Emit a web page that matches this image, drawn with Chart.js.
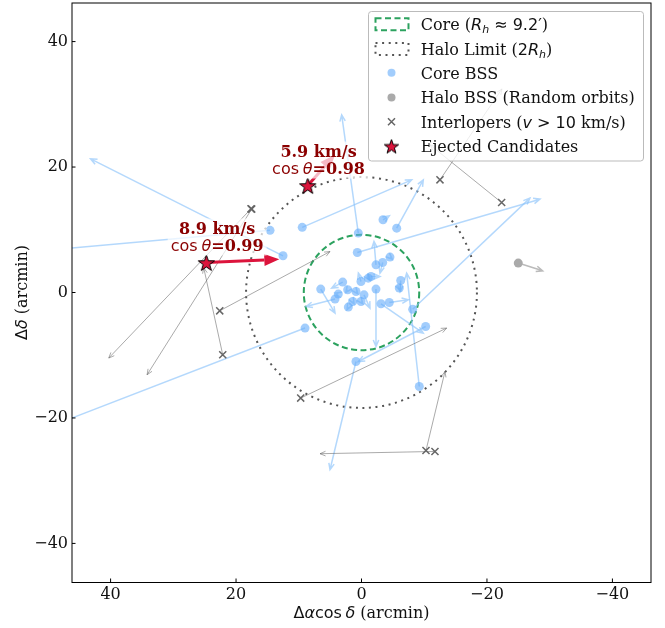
<!DOCTYPE html>
<html>
<head>
<meta charset="utf-8">
<script src="https://cdn.jsdelivr.net/npm/chart.js@4.4.1/dist/chart.umd.min.js"></script>
<style>
  html, body { margin: 0; padding: 0; background: #fff; }
  canvas { display: block; }
</style>
</head>
<body>
<canvas id="chart" width="665" height="628"></canvas>
<script>
(function () {
    "use strict";

    const SERIF = '"DejaVu Serif", serif';
    const SANS = '"DejaVu Sans", sans-serif';

    // Axes
    const xTicks = [40, 20, 0, -20, -40];
    const yTicks = [-40, -20, 0, 20, 40];
    const axisLimit = 46.15;
    const coreRadius = 9.2;
    const haloRadius = 18.4;

    // Core BSS (position + proper-motion arrow tip), arcmin
    const coreX = [12.51, 14.58, 9.0, 0.51, 9.45, -5.61, -3.43, 0.67, -8.16, -2.31, -3.38, -4.54, 3.0, 0.08, -1.08, -1.51, -6.25, -6.02, 6.5, 2.2, 0.88, -0.4, -2.31, 3.7, 4.22, 1.4, 2.1, 0.08, -3.11, -4.43, -10.23, 0.88, -9.21];
    const coreY = [5.85, 9.91, -5.67, 9.47, 10.39, 10.26, 11.59, 6.37, -2.68, 4.41, 4.78, 5.64, 1.66, 1.75, 2.29, 2.55, 1.91, 0.7, 0.54, 0.43, 0.16, -0.37, 0.54, -0.25, -1.05, -1.43, -2.33, -1.43, -1.8, -1.59, -5.42, -11.0, -14.98];
    const coreEndX = [43.19, 48.5, 49.0, 3.16, -8.0, -9.85, -4.43, -28.45, -26.85, -1.99, -2.95, -4.9, 4.75, 0.5, -1.3, -2.95, -6.14, -6.2, 4.22, 2.5, 0.6, -1.35, -2.31, 4.2, 8.84, 1.2, 2.3, -0.2, -9.85, -7.46, 0.51, 5.02, -7.2];
    const coreEndY = [21.31, 6.9, -21.1, 28.32, 17.96, 17.96, 12.22, 14.88, 15.04, 8.13, 3.09, 5.3, 0.7, 3.1, 2.0, 2.55, 0.1, 0.3, -3.28, 0.0, -0.2, -2.49, -8.61, -0.1, -2.23, -1.8, -2.7, -1.8, -6.47, -1.16, -11.0, -28.25, 3.09];

    // Halo BSS
    const haloX = [-24.99];
    const haloY = [4.69];
    const haloEndX = [-28.88];
    const haloEndY = [3.46];

    // Interlopers
    const interX = [17.61, 17.5, 22.12, 22.6, 9.69, -10.28, -11.71, -12.51, -22.34];
    const interY = [13.34, 13.3, -9.93, -2.92, -16.83, -25.18, -25.34, 17.96, 14.34];
    const interEndX = [40.29, 34.18, 25.15, 5.02, -13.58, -13.31, 6.61, -22.39, -10.92];
    const interEndY = [-10.45, -13.11, 3.94, 6.53, -5.67, -12.59, -25.7, 32.45, 23.54];

    // Ejected candidates
    const ejectX = [24.73, 8.57];
    const ejectY = [4.78, 17.05];
    const ejectEndX = [13.1, 4.22];
    const ejectEndY = [5.29, 21.94];
    const ejectSpeed = ["8.9 km/s", "5.9 km/s"];
    const ejectCos = ["0.99", "0.98"];

    const CORE_PT = "rgba(100,172,250,0.6)";
    const CORE_ARROW = "rgba(140,195,250,0.65)";
    const HALO_PT = "#aaaaaa";
    const INTER_COL = "#666666";
    const INTER_ARROW = "rgba(100,100,100,0.55)";
    const EJECT = "#DC143C";
    const CORE_CIRCLE = "#2ca25f";
    const HALO_CIRCLE = "#555555";

    function makeStar(r) {
        const size = Math.ceil(r * 2 + 4);
        const c = document.createElement("canvas");
        c.width = size;
        c.height = size;
        const g = c.getContext("2d");
        g.beginPath();
        for (let i = 0; i < 10; i++) {
            const rr = i % 2 ? r * 0.4 : r;
            const a = -Math.PI / 2 + (i * Math.PI) / 5;
            g.lineTo(size / 2 + rr * Math.cos(a), size / 2 + 1 + rr * Math.sin(a));
        }
        g.closePath();
        g.fillStyle = EJECT;
        g.fill();
        g.lineWidth = 1;
        g.strokeStyle = "#000";
        g.stroke();
        return c;
    }
    const starImg = makeStar(8.5);
    const legendStar = makeStar(7.5);

    const pts = (xs, ys) => xs.map((v, i) => ({ x: v, y: ys[i] }));
    const fmt = (v) => (v < 0 ? "\u2212" + -v : String(v));

    function measureRuns(ctx, runs) {
        let w = 0;
        runs.forEach((r) => {
            ctx.font = r.f;
            r.w = ctx.measureText(r.t).width;
            w += r.w;
        });
        return w;
    }
    function drawRuns(ctx, runs, x, y) {
        let cx = x;
        runs.forEach((r) => {
            ctx.font = r.f;
            ctx.fillText(r.t, cx, y + (r.dy || 0));
            cx += r.w;
        });
    }

    function drawArrow(ctx, x1, y1, x2, y2, o) {
        const len = Math.hypot(x2 - x1, y2 - y1);
        if (len < 0.5) return;
        const ang = Math.atan2(y2 - y1, x2 - x1);
        ctx.strokeStyle = o.color;
        ctx.lineWidth = o.lw;
        if (o.filled) {
            const bx = x2 - o.head * Math.cos(ang);
            const by = y2 - o.head * Math.sin(ang);
            ctx.beginPath();
            ctx.moveTo(x1, y1);
            ctx.lineTo(bx, by);
            ctx.stroke();
            ctx.fillStyle = o.color;
            ctx.beginPath();
            ctx.moveTo(x2, y2);
            ctx.lineTo(bx + o.hw * Math.sin(ang), by - o.hw * Math.cos(ang));
            ctx.lineTo(bx - o.hw * Math.sin(ang), by + o.hw * Math.cos(ang));
            ctx.closePath();
            ctx.fill();
        } else {
            ctx.beginPath();
            ctx.moveTo(x1, y1);
            ctx.lineTo(x2, y2);
            const a1 = ang + Math.PI - o.spread;
            const a2 = ang + Math.PI + o.spread;
            ctx.moveTo(x2 + o.head * Math.cos(a1), y2 + o.head * Math.sin(a1));
            ctx.lineTo(x2, y2);
            ctx.lineTo(x2 + o.head * Math.cos(a2), y2 + o.head * Math.sin(a2));
            ctx.stroke();
        }
    }

    const overlay = {
        id: "overlay",
        afterLayout(chart) {
            // pin the top of the plot box (Chart.js reserves room for half a tick label)
            const a = chart.chartArea;
            const sy = chart.scales.y;
            a.top = 3;
            a.height = a.bottom - a.top;
            sy.top = 3;
            sy.height = sy.bottom - sy.top;
            sy.configure();
        },
        beforeDatasetsDraw(chart) {
            const { ctx, chartArea: a } = chart;
            const sx = chart.scales.x;
            const sy = chart.scales.y;
            ctx.save();
            ctx.beginPath();
            ctx.rect(a.left, a.top, a.right - a.left, a.bottom - a.top);
            ctx.clip();

            const cx = sx.getPixelForValue(0);
            const cy = sy.getPixelForValue(0);
            const ux = Math.abs(sx.getPixelForValue(1) - cx);
            const uy = Math.abs(sy.getPixelForValue(1) - cy);

            // circles
            ctx.lineWidth = 2;
            ctx.strokeStyle = HALO_CIRCLE;
            ctx.setLineDash([2, 4.6]);
            ctx.beginPath();
            ctx.ellipse(cx, cy, haloRadius * ux, haloRadius * uy, 0, 0, Math.PI * 2);
            ctx.stroke();
            ctx.strokeStyle = CORE_CIRCLE;
            ctx.setLineDash([6, 3.5]);
            ctx.beginPath();
            ctx.ellipse(cx, cy, coreRadius * ux, coreRadius * uy, 0, 0, Math.PI * 2);
            ctx.stroke();
            ctx.setLineDash([]);

            const P = (xv, yv) => [sx.getPixelForValue(xv), sy.getPixelForValue(yv)];

            coreX.forEach((v, i) => {
                const [x1, y1] = P(v, coreY[i]);
                const [x2, y2] = P(coreEndX[i], coreEndY[i]);
                drawArrow(ctx, x1, y1, x2, y2, { color: CORE_ARROW, lw: 1.5, head: 7, spread: 0.4 });
            });
            interX.forEach((v, i) => {
                const [x1, y1] = P(v, interY[i]);
                const [x2, y2] = P(interEndX[i], interEndY[i]);
                drawArrow(ctx, x1, y1, x2, y2, { color: INTER_ARROW, lw: 1, head: 6, spread: 0.4 });
            });
            haloX.forEach((v, i) => {
                const [x1, y1] = P(v, haloY[i]);
                const [x2, y2] = P(haloEndX[i], haloEndY[i]);
                drawArrow(ctx, x1, y1, x2, y2, { color: "#bbbbbb", lw: 1.5, head: 7, spread: 0.4 });
            });
            ejectX.forEach((v, i) => {
                const [x1, y1] = P(v, ejectY[i]);
                const [x2, y2] = P(ejectEndX[i], ejectEndY[i]);
                drawArrow(ctx, x1, y1, x2, y2, { color: EJECT, lw: 3, head: 15, hw: 6, filled: true });
            });
            ctx.restore();
        },
        afterDatasetsDraw(chart) {
            const { ctx } = chart;
            const sx = chart.scales.x;
            const sy = chart.scales.y;
            ctx.save();
            ctx.textAlign = "left";
            ctx.textBaseline = "alphabetic";

            // velocity labels
            ejectX.forEach((v, i) => {
                const px = sx.getPixelForValue(v) + 10.8;
                const py = sy.getPixelForValue(ejectY[i]);
                const l1 = [{ t: ejectSpeed[i], f: "bold 16px " + SERIF }];
                const l2 = [
                    { t: "cos", f: "16px " + SANS },
                    { t: " ", f: "12px " + SANS },
                    { t: "\u03b8", f: "italic 16px " + SANS },
                    { t: "=" + ejectCos[i], f: "bold 16px " + SERIF },
                ];
                const w1 = measureRuns(ctx, l1);
                const w2 = measureRuns(ctx, l2);
                const w = Math.max(w1, w2);
                ctx.fillStyle = "rgba(255,255,255,0.7)";
                ctx.fillRect(px - w / 2 - 3, py - 44, w + 6, 37);
                ctx.fillStyle = "#8B0000";
                drawRuns(ctx, l1, px - w1 / 2, py - 29);
                drawRuns(ctx, l2, px - w2 / 2, py - 11.3);
            });

            // legend
            const lx = 368.5, ly = 11.5, lw = 275, lh = 149.5;
            ctx.beginPath();
            ctx.roundRect(lx, ly, lw, lh, 3);
            ctx.fillStyle = "rgba(255,255,255,0.8)";
            ctx.fill();
            ctx.strokeStyle = "#bbbbbb";
            ctx.lineWidth = 1;
            ctx.stroke();

            const rows = [24.3, 49, 72.7, 97.4, 121.7, 146];
            const symX = 391.5, textX = 420.7;
            // symbols
            ctx.lineWidth = 2;
            ctx.strokeStyle = CORE_CIRCLE;
            ctx.setLineDash([6, 3.5]);
            ctx.strokeRect(375.5, rows[0] - 6, 33, 12);
            ctx.strokeStyle = HALO_CIRCLE;
            ctx.setLineDash([2, 4.6]);
            ctx.strokeRect(375.5, rows[1] - 6, 33, 12);
            ctx.setLineDash([]);
            ctx.fillStyle = CORE_PT;
            ctx.beginPath();
            ctx.arc(symX, rows[2], 4, 0, Math.PI * 2);
            ctx.fill();
            ctx.fillStyle = HALO_PT;
            ctx.beginPath();
            ctx.arc(symX, rows[3], 4, 0, Math.PI * 2);
            ctx.fill();
            ctx.strokeStyle = INTER_COL;
            ctx.lineWidth = 1.5;
            ctx.beginPath();
            ctx.moveTo(symX - 3.5, rows[4] - 3.5);
            ctx.lineTo(symX + 3.5, rows[4] + 3.5);
            ctx.moveTo(symX + 3.5, rows[4] - 3.5);
            ctx.lineTo(symX - 3.5, rows[4] + 3.5);
            ctx.stroke();
            ctx.drawImage(legendStar, symX - legendStar.width / 2, rows[5] - legendStar.height / 2);

            const S = "16px " + SERIF;
            const M = "16px " + SANS;
            const MI = "italic 16px " + SANS;
            const SUB = "italic 11px " + SANS;
            const labels = [
                [{ t: "Core (", f: S }, { t: "R", f: MI }, { t: "h", f: SUB, dy: 3 }, { t: " \u2248 9.2\u2032", f: M }, { t: ")", f: S }],
                [{ t: "Halo Limit (", f: S }, { t: "2", f: M }, { t: "R", f: MI }, { t: "h", f: SUB, dy: 3 }, { t: ")", f: S }],
                [{ t: "Core BSS", f: S }],
                [{ t: "Halo BSS (Random orbits)", f: S }],
                [{ t: "Interlopers (", f: S }, { t: "v", f: MI }, { t: " > 10", f: M }, { t: " km/s)", f: S }],
                [{ t: "Ejected Candidates", f: S }],
            ];
            ctx.fillStyle = "#111";
            labels.forEach((runs, i) => {
                measureRuns(ctx, runs);
                drawRuns(ctx, runs, textX, rows[i] + 5.8);
            });
            ctx.restore();
        },
        afterDraw(chart) {
            const { ctx, chartArea: a } = chart;
            const sx = chart.scales.x;
            const sy = chart.scales.y;
            ctx.save();
            // spines
            ctx.strokeStyle = "#000";
            ctx.lineWidth = 1;
            ctx.strokeRect(a.left, a.top, a.right - a.left, a.bottom - a.top + 0.5);
            // inward ticks
            ctx.beginPath();
            xTicks.forEach((v) => {
                const p = sx.getPixelForValue(v);
                ctx.moveTo(p, a.bottom);
                ctx.lineTo(p, a.bottom - 3.5);
            });
            yTicks.forEach((v) => {
                const p = sy.getPixelForValue(v);
                ctx.moveTo(a.left, p);
                ctx.lineTo(a.left + 3.5, p);
            });
            ctx.stroke();

            // axis titles
            ctx.fillStyle = "#111";
            ctx.textBaseline = "alphabetic";
            ctx.textAlign = "left";
            const xt = [
                { t: "\u0394", f: "16px " + SANS },
                { t: "\u03b1", f: "italic 16px " + SANS },
                { t: "cos", f: "16px " + SANS },
                { t: " ", f: "11px " + SANS },
                { t: "\u03b4", f: "italic 16px " + SANS },
                { t: " (arcmin)", f: "16px " + SERIF },
            ];
            const wx = measureRuns(ctx, xt);
            drawRuns(ctx, xt, (a.left + a.right) / 2 - wx / 2, 618);

            const yt = [
                { t: "\u0394", f: "16px " + SANS },
                { t: "\u03b4", f: "italic 16px " + SANS },
                { t: " (arcmin)", f: "16px " + SERIF },
            ];
            const wy = measureRuns(ctx, yt);
            ctx.translate(27, (a.top + a.bottom) / 2);
            ctx.rotate(-Math.PI / 2);
            drawRuns(ctx, yt, -wy / 2, 0);
            ctx.restore();
        },
    };

    const tickOpts = {
        font: { family: SERIF, size: 16 },
        color: "#111",
        maxRotation: 0,
        callback: fmt,
    };

    new Chart(document.getElementById("chart").getContext("2d"), {
        type: "scatter",
        data: {
            datasets: [
                {
                    label: "Ejected Candidates",
                    data: pts(ejectX, ejectY),
                    pointStyle: starImg,
                    pointRadius: 9,
                    order: 0,
                },
                {
                    label: "Interlopers",
                    data: pts(interX, interY),
                    pointStyle: "crossRot",
                    pointRadius: 5,
                    borderColor: INTER_COL,
                    borderWidth: 1.5,
                    order: 1,
                },
                {
                    label: "Halo BSS",
                    data: pts(haloX, haloY),
                    pointRadius: 4.5,
                    backgroundColor: HALO_PT,
                    borderWidth: 0,
                    order: 2,
                },
                {
                    label: "Core BSS",
                    data: pts(coreX, coreY),
                    pointRadius: 4.5,
                    backgroundColor: CORE_PT,
                    borderWidth: 0,
                    order: 3,
                },
            ],
        },
        options: {
            responsive: false,
            animation: false,
            devicePixelRatio: 1,
            layout: { padding: { top: 3, right: 14, left: 0, bottom: 0 } },
            plugins: {
                legend: { display: false },
                tooltip: { enabled: false },
            },
            scales: {
                x: {
                    type: "linear",
                    reverse: true,
                    min: -axisLimit,
                    max: axisLimit,
                    afterBuildTicks: (s) => {
                        s.ticks = xTicks.map((v) => ({ value: v }));
                    },
                    afterFit: (s) => {
                        s.height = 46;
                        s.paddingLeft = 0;
                        s.paddingRight = 0;
                    },
                    grid: { display: false, drawTicks: false },
                    border: { display: false },
                    ticks: Object.assign({ padding: 3 }, tickOpts),
                },
                y: {
                    type: "linear",
                    min: -axisLimit,
                    max: axisLimit,
                    afterBuildTicks: (s) => {
                        s.ticks = yTicks.map((v) => ({ value: v }));
                    },
                    afterFit: (s) => {
                        s.width = 72;
                        s.paddingTop = 0;
                        s.paddingBottom = 0;
                    },
                    grid: { display: false, drawTicks: false },
                    border: { display: false },
                    ticks: Object.assign({ padding: 4 }, tickOpts),
                },
            },
        },
        plugins: [overlay],
    });
})();
</script>
</body>
</html>
